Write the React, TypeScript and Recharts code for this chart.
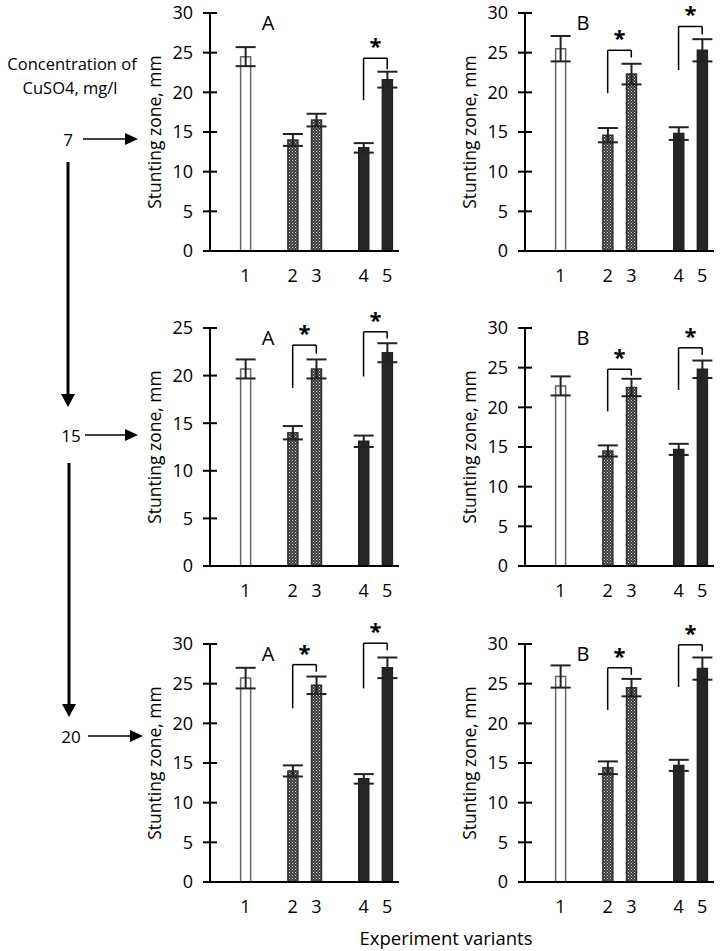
import React from "react";
import { BarChart, Bar, Cell, XAxis, YAxis, ErrorBar, ReferenceLine } from "recharts";

const FONT = "'Open Sans', 'Noto Sans', sans-serif";

// x slots: blank slots give the gaps between the groups of variants
const slots = ["s0", "1", "s2", "2", "3", "s5", "4", "5"];
const variants = ["1", "2", "3", "4", "5"];
const ticks30 = [0, 5, 10, 15, 20, 25, 30];
const ticks25 = [0, 5, 10, 15, 20, 25];

const concentrations = [7, 15, 20];

const means7A = [24.5, 14.0, 16.5, 13.0, 21.6];
const errs7A = [1.2, 0.75, 0.8, 0.6, 1.0];
const means7B = [25.5, 14.6, 22.3, 14.8, 25.3];
const errs7B = [1.6, 0.9, 1.3, 0.8, 1.4];
const means15A = [20.7, 14.0, 20.7, 13.1, 22.4];
const errs15A = [1.0, 0.7, 1.0, 0.6, 1.0];
const means15B = [22.7, 14.5, 22.5, 14.7, 24.8];
const errs15B = [1.2, 0.7, 1.1, 0.7, 1.1];
const means20A = [25.7, 14.0, 24.8, 13.0, 27.0];
const errs20A = [1.3, 0.7, 1.1, 0.6, 1.3];
const means20B = [25.9, 14.4, 24.5, 14.7, 26.9];
const errs20B = [1.4, 0.8, 1.1, 0.7, 1.4];

// significance brackets: [from, to, top, left leg bottom, right leg bottom]
const brackets7A = [["4", "5", 24.3, 19.0, 22.9]];
const brackets7B = [["2", "3", 25.3, 19.9, 24.4], ["4", "5", 28.3, 22.8, 27.3]];
const brackets15A = [["2", "3", 23.2, 18.7, 22.3], ["4", "5", 24.6, 19.9, 23.9]];
const brackets15B = [["2", "3", 24.8, 19.5, 24.0], ["4", "5", 27.5, 22.2, 26.6]];
const brackets20A = [["2", "3", 27.4, 21.9, 26.5], ["4", "5", 30.1, 24.4, 29.2]];
const brackets20B = [["2", "3", 27.0, 21.7, 26.1], ["4", "5", 29.9, 24.6, 29.1]];

const panels = [
  { group: "A", means: means7A, errs: errs7A, ticks: ticks30, brackets: brackets7A },
  { group: "B", means: means7B, errs: errs7B, ticks: ticks30, brackets: brackets7B },
  { group: "A", means: means15A, errs: errs15A, ticks: ticks25, brackets: brackets15A },
  { group: "B", means: means15B, errs: errs15B, ticks: ticks30, brackets: brackets15B },
  { group: "A", means: means20A, errs: errs20A, ticks: ticks30, brackets: brackets20A },
  { group: "B", means: means20B, errs: errs20B, ticks: ticks30, brackets: brackets20B },
];

const COLS = [210, 525];
const ROWS = [13, 328, 644];
const PLOT_W = 189;
const PLOT_H = 238;
const TOP_M = 30;

const fills = ["#fff", "url(#checker)", "url(#checker)", "#262626", "#262626"];
const strokes = ["#666", "#333", "#333", "#222", "#222"];

const YTick = (props: any) => {
  const { x, y, payload } = props;
  return (
    <g>
      <line x1={x - 7} x2={x + 7} y1={y} y2={y} stroke="#000" strokeWidth={2} />
      <text x={x - 17} y={y} dy="0.36em" textAnchor="end" fontSize={18} fontWeight={500} fill="#000" fontFamily={FONT}>
        {payload.value}
      </text>
    </g>
  );
};

function Panel({ panel, axisX, plotTop }: any) {
  const data = slots.map((s) => {
    const i = variants.indexOf(s);
    return i < 0 ? { slot: s } : { slot: s, value: panel.means[i], err: panel.errs[i] };
  });
  const max = panel.ticks[panel.ticks.length - 1];
  return (
    <div style={{ position: "absolute", left: axisX - 80, top: plotTop - TOP_M }}>
      <BarChart
        width={80 + PLOT_W + 10}
        height={TOP_M + PLOT_H + 40}
        data={data}
        margin={{ top: TOP_M, right: 10, left: 0, bottom: 0 }}
      >
        <defs>
          <pattern id="checker" width="3" height="3" patternUnits="userSpaceOnUse">
            <rect width="3" height="3" fill="#3a3a3a" />
            <rect x="0" y="0" width="1" height="1" fill="#d8d8d8" />
            <rect x="1.5" y="1.5" width="1" height="1" fill="#bbb" />
          </pattern>
        </defs>
        <XAxis
          dataKey="slot"
          height={40}
          tickSize={0}
          tickMargin={18}
          tickLine={false}
          axisLine={{ stroke: "#000", strokeWidth: 2 }}
          tickFormatter={(v: string) => (v.startsWith("s") ? "" : v)}
          tick={{ fontSize: 18, fontWeight: 500, fill: "#000", fontFamily: FONT }}
          interval={0}
        />
        <YAxis
          width={80}
          domain={[0, max]}
          ticks={panel.ticks}
          tickSize={0}
          tickMargin={0}
          tick={<YTick />}
          axisLine={{ stroke: "#000", strokeWidth: 2 }}
          label={{
            value: "Stunting zone, mm",
            angle: -90,
            position: "insideLeft",
            offset: 25,
            style: { textAnchor: "middle", fontSize: 17.5, fontWeight: 500, fill: "#000", fontFamily: FONT },
          }}
        />
        <Bar dataKey="value" barSize={10} isAnimationActive={false}>
          {data.map((d, i) => {
            const k = variants.indexOf(d.slot);
            return <Cell key={i} fill={fills[Math.max(k, 0)]} stroke={strokes[Math.max(k, 0)]} strokeWidth={1.5} />;
          })}
          <ErrorBar dataKey="err" width={10} stroke="#222" strokeWidth={2} isAnimationActive={false} />
        </Bar>
        {panel.brackets.map((b: any, i: number) => (
          <React.Fragment key={i}>
            <ReferenceLine
              segment={[{ x: b[0], y: b[3] }, { x: b[0], y: b[2] }]}
              stroke="#000"
              strokeWidth={1.5}
              ifOverflow="visible"
            />
            <ReferenceLine
              segment={[{ x: b[0], y: b[2] }, { x: b[1], y: b[2] }]}
              stroke="#000"
              strokeWidth={1.5}
              ifOverflow="visible"
              label={{ value: "*", position: "top", offset: 4, fontSize: 22, fontWeight: "bold", fill: "#000", fontFamily: FONT }}
            />
            <ReferenceLine
              segment={[{ x: b[1], y: b[2] }, { x: b[1], y: b[4] }]}
              stroke="#000"
              strokeWidth={1.5}
              ifOverflow="visible"
            />
          </React.Fragment>
        ))}
      </BarChart>
      <div
        style={{
          position: "absolute",
          left: 80 + 58,
          top: TOP_M + 10,
          transform: "translate(-50%, -50%)",
          fontSize: 20,
          fontWeight: 500,
          fontFamily: FONT,
          color: "#000",
          lineHeight: 1,
        }}
      >
        {panel.group}
      </div>
    </div>
  );
}

function Annotations() {
  const arrowY = [139, 435, 736];
  const labelX = [68, 71, 71];
  const lineStart = [83, 85, 88];
  const tipX = [138, 138, 143];
  const txt = { fontFamily: FONT, fill: "#000", fontWeight: 500 } as const;
  return (
    <svg width={724} height={951} style={{ position: "absolute", left: 0, top: 0, pointerEvents: "none" }}>
      <text x={72} y={63} textAnchor="middle" dominantBaseline="central" fontSize={16.5} {...txt}>
        Concentration of
      </text>
      <text x={70} y={87} textAnchor="middle" dominantBaseline="central" fontSize={16.5} {...txt}>
        CuSO4, mg/l
      </text>
      {concentrations.map((c, i) => (
        <g key={c}>
          <text x={labelX[i]} y={arrowY[i]} textAnchor="middle" dominantBaseline="central" fontSize={17} {...txt}>
            {c}
          </text>
          <line x1={lineStart[i]} x2={tipX[i] - 12} y1={arrowY[i]} y2={arrowY[i]} stroke="#000" strokeWidth={1.5} />
          <polygon
            points={`${tipX[i] - 13},${arrowY[i] - 6} ${tipX[i]},${arrowY[i]} ${tipX[i] - 13},${arrowY[i] + 6}`}
            fill="#000"
          />
        </g>
      ))}
      <line x1={68} x2={68} y1={162} y2={396} stroke="#000" strokeWidth={3} />
      <polygon points="61,394 75,394 68,407" fill="#000" />
      <line x1={69} x2={69} y1={463} y2={706} stroke="#000" strokeWidth={3} />
      <polygon points="62,704 76,704 69,717" fill="#000" />
      <text x={446} y={937} textAnchor="middle" dominantBaseline="central" fontSize={18.5} {...txt}>
        Experiment variants
      </text>
    </svg>
  );
}

export default function App() {
  return (
    <div style={{ position: "absolute", left: 0, top: 0, width: 724, height: 951, background: "#fff", fontFamily: FONT }}>
      {panels.map((p, i) => (
        <Panel key={i} panel={p} axisX={COLS[i % 2]} plotTop={ROWS[Math.floor(i / 2)]} />
      ))}
      <Annotations />
    </div>
  );
}
